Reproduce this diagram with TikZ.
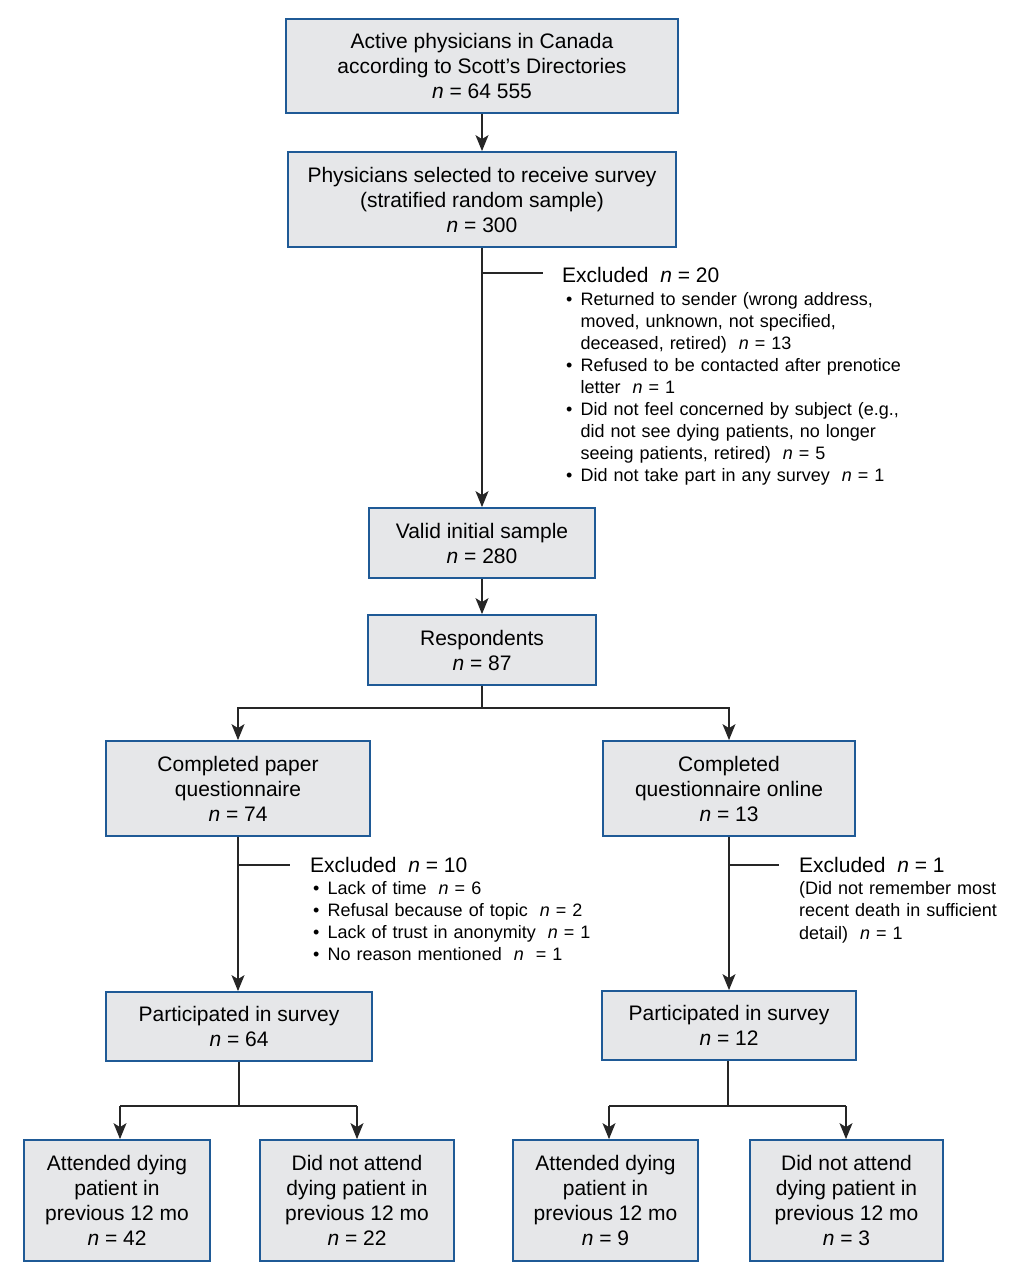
\documentclass[tikz,border=0pt]{standalone}
\usepackage{fontspec}
\setmainfont{Liberation Sans}
\usetikzlibrary{arrows.meta}
\definecolor{boxfill}{HTML}{E6E7E9}
\definecolor{boxline}{HTML}{1F5A96}
\newcommand{\nn}{\textit{n}}
\newcommand{\bul}{\makebox[14.5pt][l]{•}}
\newcommand{\ind}{\hspace*{14.5pt}}
\begin{document}
\begin{tikzpicture}[x=1pt,y=-1pt,
 box/.style={draw=boxline, fill=boxfill, line width=1.8pt, align=center, inner sep=0pt, font=\fontsize{21}{25}\selectfont},
 arr/.style={line width=1.4pt, draw=black!85, -{Stealth[length=16pt,width=13pt,inset=4pt]}},
 ln/.style={line width=1.4pt, draw=black!85},
 ttl/.style={anchor=base west, inner sep=0pt, font=\fontsize{21}{25}\selectfont},
 lst/.style={anchor=base west, inner sep=0pt, text width=450pt, align=left, font=\fontsize{18}{22}\selectfont},
]
\useasboundingbox (0,0) rectangle (1019,1280);

\node[box, minimum width=392pt, minimum height=94pt] (b1) at (482,66) {Active physicians in Canada\\according to Scott's Directories\\\nn{} = 64 555};
\node[box, minimum width=388pt, minimum height=95pt] (b2) at (482,199.5) {Physicians selected to receive survey\\(stratified random sample)\\\nn{} = 300};
\node[box, minimum width=226pt, minimum height=70pt] (b3) at (482,543) {Valid initial sample\\\nn{} = 280};
\node[box, minimum width=228pt, minimum height=70pt] (b4) at (482,650) {Respondents\\\nn{} = 87};
\node[box, minimum width=264pt, minimum height=95pt] (b5) at (238,788.5) {Completed paper\\questionnaire\\\nn{} = 74};
\node[box, minimum width=252pt, minimum height=95pt] (b6) at (729,788.5) {Completed\\questionnaire online\\\nn{} = 13};
\node[box, minimum width=266pt, minimum height=69pt] (b7) at (239,1026.5) {Participated in survey\\\nn{} = 64};
\node[box, minimum width=254pt, minimum height=69pt] (b8) at (729,1025.5) {Participated in survey\\\nn{} = 12};
\node[box, minimum width=186pt, minimum height=121pt] (b9) at (117,1200.5) {Attended dying\\patient in\\previous 12 mo\\\nn{} = 42};
\node[box, minimum width=194pt, minimum height=121pt] (b10) at (357,1200.5) {Did not attend\\dying patient in\\previous 12 mo\\\nn{} = 22};
\node[box, minimum width=185pt, minimum height=121pt] (b11) at (605.5,1200.5) {Attended dying\\patient in\\previous 12 mo\\\nn{} = 9};
\node[box, minimum width=193pt, minimum height=121pt] (b12) at (846.5,1200.5) {Did not attend\\dying patient in\\previous 12 mo\\\nn{} = 3};

% exclusion texts
\node[ttl] (exAt) at (562,282) {Excluded\ \ \nn{} = 20};
\node[lst] (exAl) at (566,305) {\bul Returned to sender (wrong address,\\\ind moved, unknown, not specified,\\\ind deceased, retired)\ \ \nn{} = 13\\\bul Refused to be contacted after prenotice\\\ind letter\ \ \nn{} = 1\\\bul Did not feel concerned by subject (e.g.,\\\ind did not see dying patients, no longer\\\ind seeing patients, retired)\ \ \nn{} = 5\\\bul Did not take part in any survey\ \ \nn{} = 1};
\node[ttl] (exBt) at (310,872) {Excluded\ \ \nn{} = 10};
\node[lst] (exBl) at (313,894) {\bul Lack of time\ \ \nn{} = 6\\\bul Refusal because of topic\ \ \nn{} = 2\\\bul Lack of trust in anonymity\ \ \nn{} = 1\\\bul No reason mentioned\ \ \nn{}\ \ = 1};
\node[ttl] (exCt) at (799,872) {Excluded\ \ \nn{} = 1};
\node[lst, text width=220pt] (exCl) at (799,894) {(Did not remember most\\recent death in sufficient\\[1pt]detail)\ \ \nn{} = 1};

% connectors
\draw[arr] (b1.south) -- (b2.south |- b2.north);
\draw[arr] (b2.south) -- (b3.north);
\coordinate (ja) at (482,273);
\coordinate (jae) at (543,273);
\draw[ln] (ja) -- (jae);
\draw[arr] (b3.south) -- (b4.north);
\coordinate (s1) at (482,708);
\draw[ln] (b4.south) -- (s1);
\draw[arr] (s1) -| (b5.north);
\draw[arr] (s1) -| (b6.north);

\draw[arr] (b5.south) -- (b5.south |- b7.north);
\coordinate (jb) at (238,865);
\coordinate (jbe) at (290,865);
\draw[ln] (jb) -- (jbe);
\draw[arr] (b6.south) -- (b6.south |- b8.north);
\coordinate (jc) at (729,865);
\coordinate (jce) at (779,865);
\draw[ln] (jc) -- (jce);

\coordinate (s2) at (239,1106);
\coordinate (s2l) at (120,1106);
\coordinate (s2r) at (357,1106);
\draw[ln] (b7.south) -- (s2);
\draw[ln] (s2l) -- (s2r);
\draw[arr] (s2l) -- (s2l |- b9.north);
\draw[arr] (s2r) -- (s2r |- b10.north);

\coordinate (s3) at (728,1106);
\coordinate (s3l) at (609,1106);
\coordinate (s3r) at (846,1106);
\draw[ln] (b8.south -| s3) -- (s3);
\draw[ln] (s3l) -- (s3r);
\draw[arr] (s3l) -- (s3l |- b11.north);
\draw[arr] (s3r) -- (s3r |- b12.north);
\end{tikzpicture}
\end{document}
